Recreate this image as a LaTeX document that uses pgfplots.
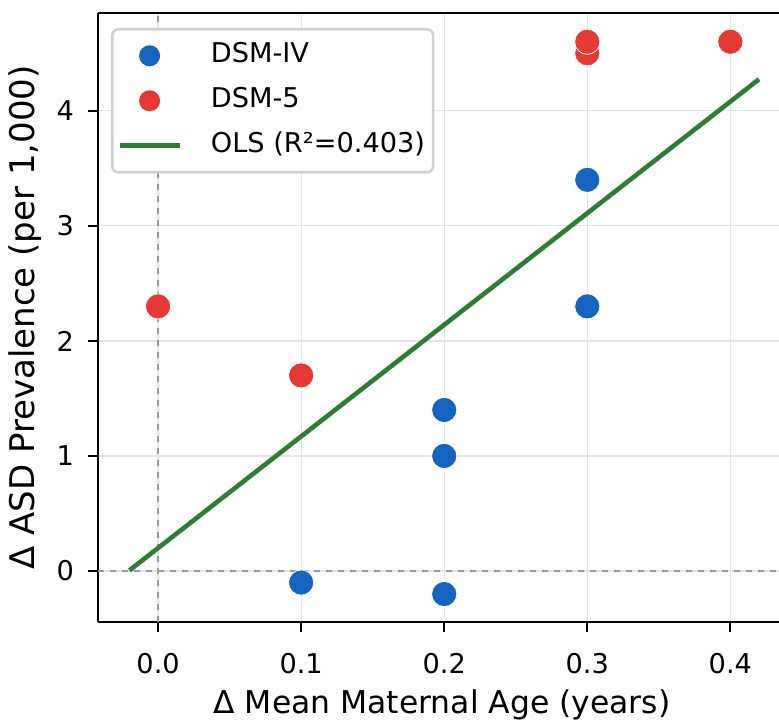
\documentclass[border=0pt]{standalone}
\usepackage{fontspec}
\setmainfont{DejaVu Sans}
\usepackage{pgfplots}
\pgfplotsset{compat=1.18}
\usetikzlibrary{calc}

\definecolor{dsmiv}{HTML}{1565C0}
\definecolor{dsmv}{HTML}{E53935}
\definecolor{olsgreen}{HTML}{2E7D32}

\begin{document}
\begin{tikzpicture}[font=\fontsize{13.6}{16}\selectfont]
  \begin{axis}[
    scale only axis,
    width  = 340.5pt,
    height = 304.5pt,
    xmin = -0.042, xmax = 0.434,
    ymin = -0.443, ymax = 4.85,
    axis lines* = left,
    axis line style = {line width=1.25pt},
    tick align = outside,
    major tick length = 5pt,
    tick style = {black, line width=1.1pt},
    xtick = {0,0.1,0.2,0.3,0.4},
    xticklabels = {0.0,0.1,0.2,0.3,0.4},
    ytick = {0,1,2,3,4},
    xticklabel style = {yshift=-7pt},
    yticklabel style = {xshift=-3.5pt},
    /pgf/number format/assume math mode=true,
    grid = major,
    major grid style = {black!10, line width=0.6pt},
    xlabel = {Δ Mean Maternal Age (years)},
    ylabel = {Δ ASD Prevalence (per 1,000)},
    xlabel style = {at={(axis description cs:0.505,-0.151)}, anchor=base,
                    font=\fontsize{15.7}{18}\selectfont},
    ylabel style = {at={(axis description cs:-0.107,0.5)}, anchor=center,
                    font=\fontsize{17}{20}\selectfont},
    clip = false,
    legend cell align = left,
    legend style = {
      at={(axis description cs:0,1)}, anchor=north west,
      xshift=6.5pt, yshift=-7.5pt,
      draw=black!18, line width=1.3pt, rounded corners=3pt,
      fill=white,
      inner xsep=2.5pt, inner ysep=5.25pt,
      row sep=6.5pt, column sep=13pt,
      nodes={inner sep=1.5pt, text height=10pt, text depth=3pt},
    },
  ]
    % zero reference lines
    \draw[black!40, dashed, line width=0.6pt] (axis cs:0,-0.443) -- (axis cs:0,4.85);
    \draw[black!40, dashed, line width=0.6pt] (axis cs:-0.042,0) -- (axis cs:0.434,0);
    % top spine (right one is cut off in the original)
    \draw[black, line width=1.25pt] (rel axis cs:0,1) -- (rel axis cs:1.01,1);
    \coordinate (bl) at (rel axis cs:0,0);
    \coordinate (tr) at (rel axis cs:1,1);

    \addlegendimage{legend image code/.code={\fill[dsmiv] (15pt,0pt) circle (4.6pt);}}
    \addlegendentry{DSM-IV}
    \addlegendimage{legend image code/.code={\fill[dsmv] (15pt,0pt) circle (4.6pt);}}
    \addlegendentry{DSM-5}
    \addlegendimage{legend image code/.code={\draw[olsgreen, line width=2.3pt] (0pt,0pt) -- (30pt,0pt);}}
    \addlegendentry{OLS (R²=0.403)}

    \addplot[olsgreen, line width=2.3pt, forget plot] coordinates {(-0.02,0.006) (0.42,4.274)};

    \addplot[only marks, mark=*, mark size=6.3pt, forget plot,
             mark options={fill=dsmiv, draw=white, line width=0.4pt}] coordinates {
      (0.1,-0.1) (0.2,-0.2) (0.2,1.0) (0.2,1.4) (0.3,2.3) (0.3,3.4)
    };
    \addplot[only marks, mark=*, mark size=6.3pt, forget plot,
             mark options={fill=dsmv, draw=white, line width=0.4pt}] coordinates {
      (0.0,2.3) (0.1,1.7) (0.3,4.5) (0.3,4.6) (0.4,4.6)
    };
  \end{axis}
  \pgfresetboundingbox
  \useasboundingbox ($(bl)+(-49pt,-50pt)$) rectangle ($(tr)+(0pt,6.5pt)$);
\end{tikzpicture}
\end{document}
